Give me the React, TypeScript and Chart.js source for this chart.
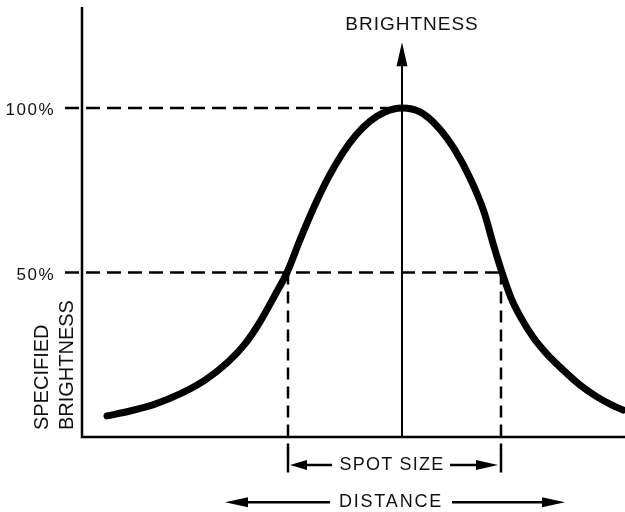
import React, { useEffect, useRef } from 'react';
import { Chart, registerables } from 'chart.js';

Chart.register(...registerables);

// Distance (x, arbitrary units, 0 = spot centre) and brightness (y, %) of the curve
const curveX = [-2.95, -2.72, -2.47, -2.22, -1.97, -1.74, -1.57, -1.42, -1.28, -1.15, -1.02, -0.88, -0.74, -0.60, -0.46, -0.32, -0.17, 0, 0.18, 0.36, 0.53, 0.68, 0.82, 0.92, 1.00, 1.09, 1.19, 1.31, 1.45, 1.61, 1.78, 1.95, 2.10, 2.21];
const curveY = [6.4, 7.9, 10.0, 13.1, 17.3, 22.8, 28.3, 35.0, 42.6, 50, 59.9, 69.9, 78.7, 86.0, 91.8, 96.0, 98.8, 100, 98.8, 94.2, 87.2, 78.7, 68.4, 57.8, 50, 42.3, 36.2, 30.4, 25.2, 20.4, 15.8, 12.2, 9.7, 8.2];

// Reference levels
const levelValues = [100, 50];
const levelLabels = ['100%', '50%'];

// Spot size boundaries (where the curve crosses 50%)
const spotEdges = [-1.14, 0.99];

// Axis extents
const axisLeftX = -3.2;
const axisRightX = 2.25;
const axisTopY = 130.7;
const brightnessArrowTop = 120;

// Dimension lines
const spotRowY = -8.5;
const distanceRowY = -19.8;
const distanceEnds = [-1.77, 1.63];

// Texts
const titleText = 'BRIGHTNESS';
const spotText = 'SPOT SIZE';
const distanceText = 'DISTANCE';
const yTitleLines = ['SPECIFIED', 'BRIGHTNESS'];

const X_MIN = -4.02, X_MAX = 2.23, Y_MIN = -22.8, Y_MAX = 132.83;

const seg = (pts: number[][], width: number, dash: number[] = []) => ({
  data: pts.map(([x, y]) => ({ x, y })),
  borderColor: '#000',
  borderWidth: width,
  borderDash: dash,
  pointRadius: 0,
  showLine: true,
  tension: 0,
  fill: false,
  borderCapStyle: 'butt' as const,
});

const arrowPlugin = {
  id: 'arrowsAndText',
  afterDatasetsDraw(chart: any) {
    const { ctx } = chart;
    const xs = chart.scales.x;
    const ys = chart.scales.y;
    const px = (v: number) => xs.getPixelForValue(v);
    const py = (v: number) => ys.getPixelForValue(v);
    ctx.save();
    ctx.fillStyle = '#000';
    const head = (x: number, y: number, dx: number, dy: number, len: number, hw: number) => {
      const tx = px(x), ty = py(y);
      const bx = tx - dx * len, by = ty - dy * len;
      ctx.beginPath();
      ctx.moveTo(tx, ty);
      ctx.lineTo(bx - dy * hw, by + dx * hw);
      ctx.lineTo(bx + dy * hw, by - dx * hw);
      ctx.closePath();
      ctx.fill();
    };
    // vertical brightness arrow
    head(0, brightnessArrowTop, 0, -1, 24, 5.5);
    // spot size arrows
    head(spotEdges[0] + 0.02, spotRowY, -1, 0, 17, 5);
    head(spotEdges[1] - 0.03, spotRowY, 1, 0, 22, 5);
    // distance arrows
    head(distanceEnds[0], distanceRowY, -1, 0, 23, 5);
    head(distanceEnds[1], distanceRowY, 1, 0, 23, 5);

    ctx.fillStyle = '#111';
    ctx.textBaseline = 'middle';
    const font = (size: number) => `${size}px "Liberation Sans", Arial, sans-serif`;
    // top title
    ctx.font = font(19);
    (ctx as any).letterSpacing = '1px';
    ctx.textAlign = 'center';
    ctx.fillText(titleText, px(0.1), py(125.2));
    // dimension texts
    ctx.font = font(18);
    (ctx as any).letterSpacing = '1.2px';
    ctx.fillText(spotText, px(-0.1), py(spotRowY));
    (ctx as any).letterSpacing = '1.8px';
    ctx.fillText(distanceText, px(-0.11), py(distanceRowY));
    // level labels
    ctx.font = font(17);
    (ctx as any).letterSpacing = '1.5px';
    ctx.textAlign = 'right';
    levelValues.forEach((v, i) => {
      ctx.fillText(levelLabels[i], px(-3.47), py(v - 0.8));
    });
    // rotated y title
    ctx.font = font(20);
    (ctx as any).letterSpacing = '0px';
    ctx.textAlign = 'left';
    const lineX = [-3.595, -3.345];
    yTitleLines.forEach((t, i) => {
      ctx.save();
      ctx.translate(px(lineX[i]), py(2.1));
      ctx.rotate(-Math.PI / 2);
      ctx.fillText(t, 0, 0);
      ctx.restore();
    });
    ctx.restore();
  },
};

export default function App() {
  const ref = useRef<HTMLCanvasElement>(null);
  useEffect(() => {
    document.body.style.margin = '0';
    if (!ref.current) return;
    const datasets: any[] = [
      {
        data: curveX.map((x, i) => ({ x, y: curveY[i] })),
        borderColor: '#000',
        borderWidth: 7,
        pointRadius: 0,
        showLine: true,
        fill: false,
        cubicInterpolationMode: 'monotone',
        borderCapStyle: 'round',
        borderJoinStyle: 'round',
      },
      // axes
      seg([[axisLeftX, axisTopY], [axisLeftX, 0], [axisRightX, 0]], 2.5),
      // centre brightness axis
      seg([[0, 0], [0, brightnessArrowTop - 4]], 2),
      // dashed level lines
      seg([[-3.37, levelValues[0]], [0, levelValues[0]]], 2.5, [14, 7]),
      seg([[-3.37, levelValues[1]], [spotEdges[1], levelValues[1]]], 2.5, [14, 7]),
      // dashed verticals at spot edges
      seg([[spotEdges[0], levelValues[1]], [spotEdges[0], -6]], 2.5, [12, 7]),
      seg([[spotEdges[1], levelValues[1]], [spotEdges[1], -6]], 2.5, [12, 7]),
      // end bars
      seg([[spotEdges[0], -5.5], [spotEdges[0], -10.8]], 2.5),
      seg([[spotEdges[1], -5.5], [spotEdges[1], -10.8]], 2.5),
      // spot size lines
      seg([[spotEdges[0] + 0.1, spotRowY], [-0.7, spotRowY]], 2.5),
      seg([[0.48, spotRowY], [spotEdges[1] - 0.15, spotRowY]], 2.5),
      // distance lines
      seg([[distanceEnds[0] + 0.1, distanceRowY], [-0.72, distanceRowY]], 2.5),
      seg([[0.5, distanceRowY], [distanceEnds[1] - 0.1, distanceRowY]], 2.5),
    ];
    const chart = new Chart(ref.current, {
      type: 'scatter',
      data: { datasets },
      options: {
        animation: false,
        responsive: false,
        layout: { padding: 0 },
        plugins: { legend: { display: false }, tooltip: { enabled: false } },
        scales: {
          x: { type: 'linear', min: X_MIN, max: X_MAX, display: false },
          y: { type: 'linear', min: Y_MIN, max: Y_MAX, display: false },
        },
      },
      plugins: [arrowPlugin],
    });
    return () => chart.destroy();
  }, []);
  return (
    <div style={{ position: 'absolute', left: 0, top: 0, width: 625, height: 512, background: '#fff' }}>
      <canvas ref={ref} width={625} height={512} style={{ display: 'block' }} />
    </div>
  );
}
